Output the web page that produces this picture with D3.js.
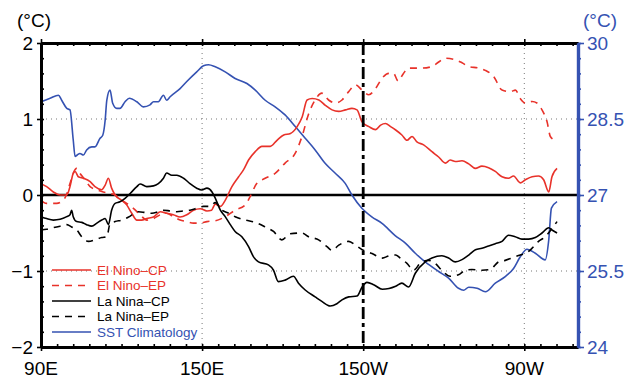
<!DOCTYPE html>
<html>
<head>
<meta charset="utf-8">
<script src="https://cdn.jsdelivr.net/npm/d3@7"></script>
<style>
  body { margin: 0; background: #fff; }
  svg { display: block; font-family: "Liberation Sans", Arial, sans-serif; }
</style>
</head>
<body>
<div id="chart"></div>
<script>
// longitude (deg E) / anomaly (°C)
const elNinoCP = [[90,0.15],[92.1,0.11],[94.6,0.04],[97.1,0],[99.6,0],[100.8,0.11],[102,0.285],[102.7,0.31],[103.9,0.24],[105.8,0.22],[108.3,0.175],[110.1,0.11],[112.6,0.07],[113.9,0.13],[115.1,0.22],[116.3,0.09],[117.6,0],[120.1,-0.07],[121.9,-0.13],[123.8,-0.24],[125.7,-0.33],[127.5,-0.33],[129.4,-0.31],[131.9,-0.29],[134.4,-0.22],[136.8,-0.24],[139.3,-0.26],[141.8,-0.29],[144.3,-0.26],[146.8,-0.2],[149.3,-0.18],[151.8,-0.21],[153.5,-0.2],[154.9,-0.12],[156.8,-0.15],[158.6,-0.07],[161.1,0.11],[163.6,0.24],[165.4,0.33],[167.3,0.46],[169.8,0.57],[172.3,0.64],[175.4,0.64],[177.9,0.72],[180.4,0.79],[182.9,0.81],[185.4,0.9],[187.3,1.03],[189.1,1.25],[191,1.27],[193.5,1.25],[195.9,1.18],[198.4,1.12],[200.9,1.1],[203.4,1.12],[205.8,1.14],[207.7,1.12],[209.6,0.96],[212.1,0.9],[214.6,0.86],[216.5,0.92],[218.3,0.94],[220.2,0.9],[222.1,0.855],[224.4,0.79],[226.3,0.72],[228.2,0.77],[230,0.7],[232.5,0.66],[235.6,0.57],[238.1,0.5],[240.6,0.42],[242.4,0.46],[244.3,0.44],[246.8,0.45],[249.3,0.41],[251.8,0.35],[254.2,0.38],[256.7,0.36],[259.2,0.31],[261.7,0.24],[264.1,0.22],[266,0.25],[268.5,0.16],[270.4,0.2],[272.9,0.24],[275.3,0.25],[277.2,0.2],[279.1,0.04],[280.3,0.24],[282.2,0.35]];

const elNinoEP = [[90,-0.07],[92.1,-0.11],[95.8,-0.11],[98.9,-0.04],[100.8,0.15],[102,0.285],[103.3,0.35],[104.5,0.285],[106.4,0.2],[108.3,0.11],[110.8,0.07],[113.2,0.04],[115.7,0.02],[117.6,0],[120.1,-0.07],[121.9,-0.11],[124.4,-0.175],[126.9,-0.26],[129.4,-0.33],[131.9,-0.31],[134.4,-0.26],[136.8,-0.24],[139.3,-0.285],[141.8,-0.33],[144.3,-0.35],[146.8,-0.37],[149.3,-0.37],[151.8,-0.35],[154.9,-0.34],[158.6,-0.285],[162.3,-0.2],[166.1,-0.13],[167.9,-0.02],[170.4,0.154],[173.5,0.22],[177.2,0.285],[180.9,0.42],[184.7,0.55],[187.2,0.77],[189.7,1.07],[192.1,1.25],[194.6,1.34],[197.1,1.25],[199.6,1.21],[202.1,1.25],[204.6,1.36],[207.1,1.45],[209.6,1.38],[212.1,1.32],[214.6,1.4],[217.1,1.54],[219.6,1.6],[221.3,1.6],[223,1.5],[225,1.6],[226.9,1.67],[231.9,1.67],[235.6,1.69],[238.1,1.75],[240.6,1.8],[244.3,1.78],[246.8,1.74],[249.3,1.69],[253,1.67],[255.5,1.64],[258.6,1.56],[261.7,1.38],[264.8,1.36],[266.7,1.38],[268.5,1.27],[270.4,1.21],[272.9,1.23],[274.7,1.21],[276.6,1.12],[278.5,0.96],[279.7,0.77],[281.6,0.72]];

const laNinaCP = [[90,-0.285],[92.1,-0.31],[94.6,-0.33],[97.1,-0.32],[99.6,-0.285],[100.8,-0.26],[101.4,-0.2],[102,-0.285],[103.3,-0.35],[105.2,-0.36],[107,-0.39],[108.9,-0.41],[110.8,-0.37],[112.6,-0.33],[113.9,-0.31],[115.1,-0.39],[116.3,-0.2],[117.6,-0.11],[119.4,-0.09],[121.3,-0.044],[123.2,0.02],[125.7,0.11],[126.9,0.145],[129.4,0.11],[131.9,0.12],[133.7,0.15],[135.6,0.22],[136.8,0.29],[138.7,0.26],[140.6,0.26],[143.1,0.22],[145.5,0.15],[148,0.09],[149.9,0.066],[151.8,0.09],[153.7,0.04],[154.9,-0.04],[156.8,-0.2],[158.6,-0.285],[160.5,-0.39],[162.3,-0.48],[164.8,-0.55],[167.3,-0.68],[169.1,-0.81],[171,-0.88],[174.7,-0.92],[176.6,-0.99],[178.4,-1.14],[180.9,-1.12],[184,-1.07],[185.9,-1.16],[188.4,-1.25],[192.1,-1.34],[194.6,-1.4],[197.7,-1.46],[200.2,-1.43],[202.1,-1.38],[204.6,-1.34],[207.7,-1.33],[209.6,-1.21],[211.4,-1.15],[213.9,-1.18],[217.1,-1.24],[219.6,-1.23],[222.1,-1.2],[224.4,-1.16],[226.9,-1.21],[229.4,-1.03],[233.1,-0.88],[235.6,-0.83],[239.3,-0.8],[241.8,-0.83],[244.3,-0.88],[246.8,-0.85],[249.3,-0.79],[251.8,-0.72],[254.2,-0.7],[256.7,-0.67],[259.2,-0.64],[261.7,-0.61],[264.1,-0.53],[266.6,-0.55],[269.1,-0.58],[271.6,-0.58],[274.1,-0.56],[276.6,-0.5],[279.1,-0.43],[280.3,-0.46],[282.2,-0.5]];

const laNinaEP = [[90,-0.46],[92.1,-0.45],[94.6,-0.43],[97.1,-0.41],[99.6,-0.39],[101.4,-0.42],[103.3,-0.46],[105.2,-0.55],[107.7,-0.61],[110.1,-0.59],[112.6,-0.56],[114.5,-0.55],[115.7,-0.38],[117.6,-0.35],[120.1,-0.33],[122.6,-0.29],[124.4,-0.25],[126.3,-0.22],[128.8,-0.23],[131.3,-0.24],[133.7,-0.22],[135.6,-0.2],[138.1,-0.21],[140.6,-0.22],[143.1,-0.21],[145.5,-0.2],[148,-0.175],[150.5,-0.15],[153,-0.15],[154.9,-0.1],[157.4,-0.2],[159.9,-0.24],[162.3,-0.285],[166.1,-0.33],[169.8,-0.36],[173.5,-0.42],[176.6,-0.48],[179.7,-0.59],[182.8,-0.51],[187.2,-0.5],[189.7,-0.55],[193.4,-0.59],[196.5,-0.68],[198.4,-0.73],[200.9,-0.66],[204.6,-0.61],[207.1,-0.66],[209.6,-0.72],[213.3,-0.77],[217.1,-0.83],[219.6,-0.8],[222.1,-0.79],[223.8,-0.83],[226.3,-0.9],[228.8,-0.99],[231.2,-0.9],[234.3,-0.86],[236.8,-0.9],[239.3,-0.99],[242.4,-1.07],[245.5,-1.05],[248,-0.99],[250.5,-0.98],[254.2,-0.99],[257.3,-0.98],[260.4,-0.88],[262.9,-0.86],[266,-0.82],[268.5,-0.79],[270.4,-0.77],[272.9,-0.7],[275.3,-0.61],[277.8,-0.55],[280.3,-0.44],[282.2,-0.35]];

// longitude / SST climatology (°C, right axis)
const sstClim = [[90,28.84],[93.4,28.91],[96.5,28.97],[97.7,28.87],[99.6,28.71],[100.8,28.68],[102,28.09],[102.7,27.76],[103.5,27.79],[104.5,27.82],[105.8,27.79],[107,27.89],[108.9,27.95],[110.1,27.95],[112,28.12],[113,28.18],[113.9,28.48],[114.5,28.87],[115.7,29.07],[116.7,28.81],[118.2,28.71],[119.4,28.71],[121.3,28.84],[122.9,28.91],[125.7,28.84],[128.1,28.74],[130.6,28.78],[131.9,28.84],[133.7,28.84],[135.6,28.97],[136.8,28.87],[138.1,28.94],[141.8,29.1],[144.3,29.24],[148,29.43],[150.5,29.55],[152.4,29.57],[154.9,29.53],[158.6,29.43],[162.3,29.3],[166.7,29.2],[169.8,29.07],[173.5,28.87],[177.2,28.74],[180.9,28.58],[184.7,28.35],[188.4,28.12],[192.1,27.89],[195.9,27.62],[199.6,27.43],[203.3,27.23],[205.8,27],[209.5,26.74],[213.2,26.57],[217,26.44],[221.9,26.2],[225.7,26.05],[229.4,25.85],[233.1,25.68],[238.1,25.49],[241.8,25.36],[245.5,25.16],[247.4,25.12],[249.3,25.18],[252.4,25.16],[255.5,25.09],[259.2,25.26],[262.9,25.39],[266,25.55],[268.5,25.78],[271,25.93],[274.1,25.85],[277.8,25.72],[279.1,26.11],[280.1,26.74],[282.2,26.87]];

const lonTicks = [90, 150, 210, 270];
const lonLabels = ["90E", "150E", "150W", "90W"];
const leftTicks = [-2, -1, 0, 1, 2];
const rightTicks = [24, 25.5, 27, 28.5, 30];
const legendNames = ["El Nino\u2013CP", "El Nino\u2013EP", "La Nina\u2013CP", "La Nina\u2013EP", "SST Climatology"];

const RED = "#e8322a", BLUE = "#3552b2";

const width = 630, height = 379;
const pL = 41, pR = 578, pT = 43, pB = 347;

const x = d3.scaleLinear().domain([90, 290]).range([pL, pR]);
const y = d3.scaleLinear().domain([-2, 2]).range([pB, pT]);
const y2 = d3.scaleLinear().domain([24, 30]).range([pB, pT]);

const svg = d3.select("#chart").append("svg")
  .attr("width", width).attr("height", height);

// dotted grid
const grid = svg.append("g").attr("stroke", "#777").attr("stroke-width", 1).attr("stroke-dasharray", "1,4");
[-1, 1].forEach(v => grid.append("line").attr("x1", pL).attr("x2", pR).attr("y1", y(v)).attr("y2", y(v)));
[150, 270].forEach(v => grid.append("line").attr("x1", x(v)).attr("x2", x(v)).attr("y1", pT).attr("y2", pB));

// zero line
svg.append("line").attr("x1", pL).attr("x2", pR).attr("y1", y(0)).attr("y2", y(0))
  .attr("stroke", "#000").attr("stroke-width", 2.5);

const line = d3.line().x(d => x(d[0])).y(d => y(d[1])).curve(d3.curveMonotoneX);
const line2 = d3.line().x(d => x(d[0])).y(d => y2(d[1])).curve(d3.curveMonotoneX);

const series = [
  {data: elNinoCP, color: RED, dash: null, gen: line},
  {data: elNinoEP, color: RED, dash: "7,6", gen: line},
  {data: laNinaCP, color: "#000", dash: null, gen: line},
  {data: laNinaEP, color: "#000", dash: "7,6", gen: line},
  {data: sstClim, color: BLUE, dash: null, gen: line2}
];

// draw SST first so anomalies sit on top
[4, 0, 1, 2, 3].forEach(i => {
  const s = series[i];
  svg.append("path").attr("d", s.gen(s.data))
    .attr("fill", "none").attr("stroke", s.color).attr("stroke-width", 1.6)
    .attr("stroke-dasharray", s.dash);
});

// 150W dash-dot line
svg.append("line").attr("x1", x(210)).attr("x2", x(210)).attr("y1", pT).attr("y2", pB)
  .attr("stroke", "#000").attr("stroke-width", 2.8).attr("stroke-dasharray", "12,4,4,4");

// axes
const minorLon = d3.range(90, 291, 6);
const minorY = d3.range(-2, 2.001, 0.2);
const minorY2 = d3.range(24, 30.001, 0.3);

function styleAxis(g, color, w) {
  g.select(".domain").attr("stroke", color).attr("stroke-width", w);
  g.selectAll(".tick line").attr("stroke", color).attr("stroke-width", 1.6);
  g.selectAll("text").remove();
}

svg.append("g").attr("transform", `translate(0,${pB})`)
  .call(d3.axisTop(x).tickValues(minorLon).tickSize(3).tickSizeOuter(0)).call(styleAxis, "#000", 3);
svg.append("g").attr("transform", `translate(0,${pB})`)
  .call(d3.axisBottom(x).tickValues(lonTicks).tickSize(4).tickSizeOuter(0)).call(styleAxis, "#000", 3);
svg.append("g").attr("transform", `translate(0,${pT})`)
  .call(d3.axisBottom(x).tickValues(minorLon).tickSize(3).tickSizeOuter(0)).call(styleAxis, "#000", 3);
svg.append("g").attr("transform", `translate(0,${pT})`)
  .call(d3.axisTop(x).tickValues(lonTicks).tickSize(4).tickSizeOuter(0)).call(styleAxis, "#000", 3);

svg.append("g").attr("transform", `translate(${pL},0)`)
  .call(d3.axisRight(y).tickValues(minorY).tickSize(3).tickSizeOuter(0)).call(styleAxis, "#000", 3);
svg.append("g").attr("transform", `translate(${pL},0)`)
  .call(d3.axisLeft(y).tickValues(leftTicks).tickSize(4).tickSizeOuter(0)).call(styleAxis, "#000", 3);

svg.append("g").attr("transform", `translate(${pR},0)`)
  .call(d3.axisRight(y2).tickValues(minorY2).tickSize(3).tickSizeOuter(0)).call(styleAxis, BLUE, 3.2);
svg.append("g").attr("transform", `translate(${pR},0)`)
  .call(d3.axisRight(y2).tickValues(rightTicks).tickSize(6).tickSizeOuter(0)).call(styleAxis, BLUE, 3.2);

// tick labels
const fs = 19;
svg.append("g").selectAll("text").data(leftTicks).join("text")
  .attr("x", 33).attr("y", d => y(d)).attr("dy", "0.36em")
  .attr("text-anchor", "end").attr("font-size", fs)
  .text(d => d < 0 ? "\u2212" + Math.abs(d) : d);

svg.append("g").selectAll("text").data(rightTicks).join("text")
  .attr("x", 587).attr("y", d => y2(d)).attr("dy", "0.36em")
  .attr("font-size", fs).attr("fill", BLUE)
  .text(d => d);

svg.append("g").selectAll("text").data(lonTicks).join("text")
  .attr("x", d => x(d)).attr("y", 375)
  .attr("text-anchor", "middle").attr("font-size", fs)
  .text((d, i) => lonLabels[i]);

svg.append("text").attr("x", 34).attr("y", 27).attr("text-anchor", "middle")
  .attr("font-size", fs).text("(\u00B0C)");
svg.append("text").attr("x", 600).attr("y", 27).attr("text-anchor", "middle")
  .attr("font-size", fs).attr("fill", BLUE).text("(\u00B0C)");

// legend
const legY = [270, 285.5, 301, 316.5, 332];
const leg = svg.append("g");
series.forEach((s, i) => {
  leg.append("line").attr("x1", 52).attr("x2", 91).attr("y1", legY[i]).attr("y2", legY[i])
    .attr("stroke", s.color).attr("stroke-width", 1.6).attr("stroke-dasharray", s.dash);
  leg.append("text").attr("x", 97).attr("y", legY[i]).attr("dy", "0.36em")
    .attr("font-size", 13.5).attr("fill", s.color).text(legendNames[i]);
});
</script>
</body>
</html>
